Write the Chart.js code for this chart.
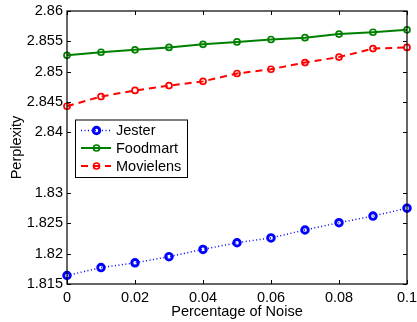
<!DOCTYPE html>
<html>
<head>
<meta charset="utf-8">
<script src="https://cdn.jsdelivr.net/npm/chart.js@4"></script>
<style>
html,body{margin:0;padding:0;background:#fff;}
canvas{display:block;}
</style>
</head>
<body>
<canvas id="c" width="417" height="322"></canvas>
<script>
// ---- data ----
const noise = [0, 0.01, 0.02, 0.03, 0.04, 0.05, 0.06, 0.07, 0.08, 0.09, 0.1];
const jester    = [1.8164, 1.8177, 1.8185, 1.8195, 1.8207, 1.8218, 1.8226, 1.8239, 1.8251, 1.8262, 1.8275];
const foodmart  = [2.8527, 2.8532, 2.8536, 2.8540, 2.8545, 2.8549, 2.8553, 2.8556, 2.8562, 2.8565, 2.8569];
const movielens = [2.8443, 2.8459, 2.8469, 2.8477, 2.8484, 2.8497, 2.8504, 2.8515, 2.8524, 2.8538, 2.8540];
const seriesNames = ['Jester', 'Foodmart', 'Movielens'];
const xTickValues = [0, 0.02, 0.04, 0.06, 0.08, 0.1];
const xTickLabels = ['0', '0.02', '0.04', '0.06', '0.08', '0.1'];
const yTickValues = [1.815, 1.82, 1.825, 1.83, 2.84, 2.845, 2.85, 2.855, 2.86];
const yTickLabels = ['1.815', '1.82', '1.825', '1.83', '2.84', '2.845', '2.85', '2.855', '2.86'];

// broken y axis: lower band 1.815–1.83, gap, upper band 2.84–2.86 (units of 0.005)
function toAxis(v) {
  return v > 2 ? 5 + (v - 2.84) / 0.005 : (v - 1.815) / 0.005;
}

const FONT = "'Liberation Sans', Arial, Helvetica, sans-serif";
Chart.defaults.font.family = FONT;
Chart.defaults.font.size = 14.5;
Chart.defaults.color = '#000';

const styles = [
  {color: '#0000ff', width: 1.5, dash: [1, 2.5], radius: 3.3, pbw: 2.9},
  {color: '#008000', width: 2, dash: [], radius: 3, pbw: 1.7},
  {color: '#ff0000', width: 2, dash: [7, 5], radius: 3, pbw: 1.7}
];
const seriesValues = [jester, foodmart, movielens];

const datasets = seriesValues.map((vals, i) => ({
  label: seriesNames[i],
  data: vals.map((v, k) => ({x: noise[k], y: toAxis(v)})),
  borderColor: styles[i].color,
  borderWidth: styles[i].width,
  borderDash: styles[i].dash,
  pointRadius: styles[i].radius,
  pointBorderWidth: styles[i].pbw,
  pointBorderColor: styles[i].color,
  pointBackgroundColor: 'rgba(0,0,0,0)',
  tension: 0,
  fill: false,
  clip: false
}));

const framePlugin = {
  id: 'frame',
  afterDatasetsDraw(chart) {
    const {ctx, chartArea: a, scales} = chart;
    ctx.save();
    ctx.strokeStyle = '#000';
    ctx.lineWidth = 1.2;
    ctx.strokeRect(a.left, a.top, a.right - a.left, a.bottom - a.top);
    ctx.lineWidth = 1;
    const L = 4;
    ctx.beginPath();
    scales.y.ticks.forEach(t => {
      const y = Math.round(scales.y.getPixelForValue(t.value)) + 0.5;
      ctx.moveTo(a.left, y); ctx.lineTo(a.left + L, y);
      ctx.moveTo(a.right, y); ctx.lineTo(a.right - L, y);
    });
    scales.x.ticks.forEach(t => {
      const x = Math.round(scales.x.getPixelForValue(t.value)) + 0.5;
      ctx.moveTo(x, a.bottom); ctx.lineTo(x, a.bottom - L);
      ctx.moveTo(x, a.top); ctx.lineTo(x, a.top + L);
    });
    ctx.stroke();

    // legend box
    const bx = a.left + 8, by = a.top + 108.5, bw = 112, bh = 57.5;
    ctx.fillStyle = '#fff';
    ctx.fillRect(bx, by, bw, bh);
    ctx.lineWidth = 1;
    ctx.strokeStyle = '#000';
    ctx.strokeRect(bx + 0.5, by + 0.5, bw, bh);
    const rows = [by + 11, by + 28.5, by + 46.5];
    ctx.font = '14.5px ' + FONT;
    ctx.textBaseline = 'middle';
    ctx.textAlign = 'left';
    chart.data.datasets.forEach((ds, i) => {
      const s = styles[i];
      const y = rows[i];
      ctx.save();
      ctx.strokeStyle = s.color;
      ctx.lineWidth = s.width;
      ctx.setLineDash(s.dash);
      ctx.beginPath();
      ctx.moveTo(bx + 6, y); ctx.lineTo(bx + 36, y);
      ctx.stroke();
      ctx.setLineDash([]);
      ctx.lineWidth = s.pbw;
      ctx.beginPath();
      ctx.arc(bx + 21.5, y, s.radius, 0, Math.PI * 2);
      ctx.stroke();
      ctx.restore();
      ctx.fillStyle = '#000';
      ctx.fillText(ds.label, bx + 41, y + 0.5);
    });
    ctx.restore();
  }
};

new Chart(document.getElementById('c'), {
  type: 'line',
  data: {datasets},
  plugins: [framePlugin],
  options: {
    responsive: false,
    animation: false,
    layout: {padding: {left: 0, right: 10, top: 11, bottom: 0}},
    plugins: {legend: {display: false}, tooltip: {enabled: false}},
    scales: {
      x: {
        type: 'linear',
        min: 0, max: 0.1,
        grid: {display: false, drawTicks: false},
        border: {display: false},
        afterBuildTicks(scale) { scale.ticks = xTickValues.map(v => ({value: v})); },
        ticks: {
          padding: 5,
          maxRotation: 0,
          autoSkip: false,
          callback: (v, i) => xTickLabels[i]
        },
        title: {display: true, text: 'Percentage of Noise', padding: {top: 0, bottom: 1}},
        afterFit(scale) { scale.height = 38; scale.paddingLeft = 0; scale.paddingRight = 0; }
      },
      y: {
        type: 'linear',
        min: 0, max: 9,
        grid: {display: false, drawTicks: false},
        border: {display: false},
        afterBuildTicks(scale) { scale.ticks = yTickValues.map(v => ({value: toAxis(v)})); },
        ticks: {
          padding: 4,
          autoSkip: false,
          callback: (v, i) => yTickLabels[i]
        },
        title: {display: true, text: 'Perplexity', padding: {top: 8.5, bottom: 0}},
        afterFit(scale) { scale.width = 67; scale.paddingTop = 0; scale.paddingBottom = 0; }
      }
    }
  }
});
</script>
</body>
</html>
